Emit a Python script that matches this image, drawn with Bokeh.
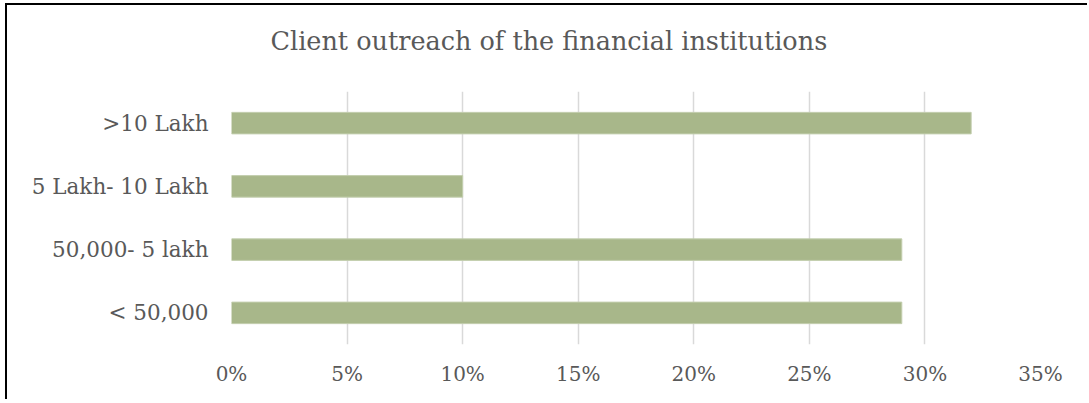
from bokeh.plotting import figure
from bokeh.models import Range1d, FactorRange, NumeralTickFormatter, FixedTicker, Title
from bokeh.embed import file_html
from bokeh.resources import INLINE

title_text = "Client outreach of the financial institutions"
categories = ["< 50,000", "50,000- 5 lakh", "5 Lakh- 10 Lakh", ">10 Lakh"]
shares = [0.29, 0.29, 0.10, 0.32]
x_ticks = [0.0, 0.05, 0.10, 0.15, 0.20, 0.25, 0.30, 0.35]

FONT = "DejaVu Serif"
TEXT = "#595959"

W, H = 1082, 396
ML, MT, MB = 224, 86, 57
MR = W - 1033
p = figure(width=W, height=H, output_backend="svg", toolbar_location=None,
           y_range=FactorRange(*categories), x_range=Range1d(0, 0.35),
           min_border_left=ML, min_border_right=MR, min_border_top=MT, min_border_bottom=MB,
           outline_line_color=None, background_fill_color="white", border_fill_color="white")
p.styles = {"margin": "5px 0px 0px 7px", "box-shadow": "-2px -2px 0px 0px black"}

p.hbar(y=categories, right=shares, height=0.34, left=0,
       fill_color="#A8B78A", line_color="#C3CEAE", line_width=1)

p.xaxis.ticker = FixedTicker(ticks=x_ticks)
p.xaxis.formatter = NumeralTickFormatter(format="0%")
for ax in (p.xaxis, p.yaxis):
    ax.axis_line_color = None
    ax.major_tick_line_color = None
    ax.minor_tick_line_color = None
    ax.major_tick_out = 0
    ax.major_tick_in = 0
    ax.major_label_text_font = FONT
    ax.major_label_text_color = TEXT
p.xaxis.major_label_text_font_size = "20px"
p.yaxis.major_label_text_font_size = "21.5px"
p.xaxis.major_label_standoff = 17
p.yaxis.major_label_standoff = 23

p.xgrid.ticker = FixedTicker(ticks=x_ticks)
p.xgrid.grid_line_color = "#D9D9D9"
p.xgrid.grid_line_width = 1.5
p.ygrid.grid_line_color = None

# spacer between title and frame
p.add_layout(Title(text=" ", text_font_size="1px", standoff=30, text_color="white"), "above")

p.title.text = title_text
p.title.text_font = FONT
p.title.text_font_size = "25.5px"
p.title.text_font_style = "normal"
p.title.text_color = TEXT
p.title.align = "left"
p.title.offset = 39
p.title.standoff = 6

open("out.html", "w").write(file_html(p, INLINE))
